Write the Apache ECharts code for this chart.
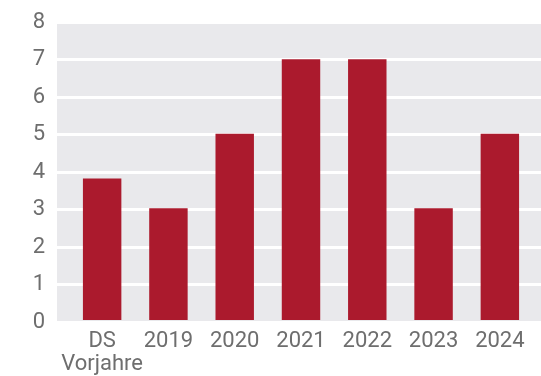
<!DOCTYPE html>
<html>
<head>
<meta charset="utf-8">
<script src="https://cdn.jsdelivr.net/npm/echarts@6/dist/echarts.min.js"></script>
<style>
  html, body { margin: 0; padding: 0; background: #fff; }
  #chart { width: 541px; height: 376px; }
</style>
</head>
<body>
<div id="chart"></div>
<script>
var categories = ['DS\nVorjahre', '2019', '2020', '2021', '2022', '2023', '2024']
var values = [3.8, 3, 5, 7, 7, 3, 5]
var yTicks = [0, 8, 1] // min, max, interval

var myChart = echarts.init(document.getElementById('chart'))

var option = {
  animation: false,
  textStyle: { fontFamily: 'Roboto' },
  grid: [
    // background grid: gray panel with white lines
    { left: 57, right: 0, top: 22, bottom: 54, show: true, backgroundColor: '#e9e9ec', borderWidth: 0 },
    // data grid
    { left: 69, right: 8, top: 22, bottom: 54 }
  ],
  xAxis: [
    { gridIndex: 0, type: 'value', show: false, min: 0, max: 1 },
    {
      gridIndex: 1,
      type: 'category',
      data: categories,
      axisLine: { show: false },
      axisTick: { show: false },
      axisLabel: { color: '#6e6e6e', fontSize: 22, margin: 10, lineHeight: 23, interval: 0 }
    }
  ],
  yAxis: [
    {
      gridIndex: 0,
      type: 'value',
      min: yTicks[0],
      max: yTicks[1],
      interval: yTicks[2],
      axisLine: { show: false },
      axisTick: { show: false },
      axisLabel: { color: '#6e6e6e', fontSize: 22, margin: 12 },
      splitLine: { show: true, lineStyle: { color: '#ffffff', width: 3 } }
    },
    {
      gridIndex: 1,
      type: 'value',
      min: yTicks[0],
      max: yTicks[1],
      interval: yTicks[2],
      show: false,
      splitLine: { show: false }
    }
  ],
  series: [
    {
      type: 'bar',
      xAxisIndex: 1,
      yAxisIndex: 1,
      data: values,
      barWidth: '58%',
      itemStyle: { color: '#ab1a2d' }
    }
  ]
}
myChart.setOption(option)
window.onresize = function() {
  myChart.resize()
}
</script>
</body>
</html>
